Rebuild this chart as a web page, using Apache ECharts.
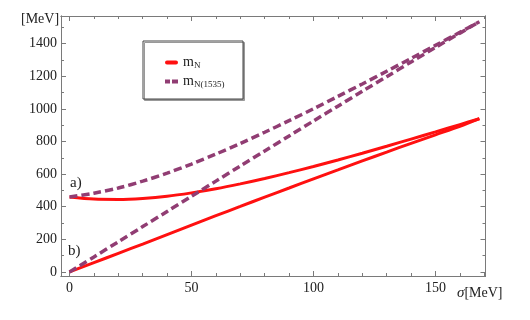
<!DOCTYPE html>
<html>
<head>
<meta charset="utf-8">
<title>masses vs sigma</title>
<script src="https://cdn.jsdelivr.net/npm/echarts@6/dist/echarts.min.js"></script>
<style>
    html, body { margin: 0; padding: 0; background: #fff; }
    #chart { width: 530px; height: 320px; }
</style>
</head>
<body>
<div id="chart"></div>
<script>
    // sigma values [MeV] (x)
    let sigma = [0, 10, 20, 30, 40, 50, 60, 70, 80, 90, 100, 110, 120, 130, 140, 150, 160, 168];
    // case a) curves
    let nucleonA = [460, 447, 445, 451, 464, 485, 510, 540, 573, 609, 647, 687, 728, 771, 815, 859, 904, 940];
    let n1535A = [460, 483, 515, 557, 606, 662, 723, 788, 857, 928, 1001, 1077, 1153, 1231, 1310, 1390, 1470, 1535];
    // case b) curves
    let nucleonB = [0, 57, 114, 171, 229, 287, 345, 402, 459, 515, 571, 626, 681, 735, 789, 841, 893, 940];
    let n1535B = [0, 92, 185, 278, 371, 464, 557, 650, 742, 834, 926, 1017, 1108, 1198, 1288, 1377, 1465, 1535];

    // tick labels
    let xMajor = [0, 50, 100, 150];
    let xMinor = [10, 20, 30, 40, 60, 70, 80, 90, 110, 120, 130, 140, 160, 170];
    let yMajor = [0, 200, 400, 600, 800, 1000, 1200, 1400];
    let yMinor = [100, 300, 500, 700, 900, 1100, 1300, 1500];

    let frameColor = '#7a7a7a';
    let red = '#ff1010';
    let purple = '#913d73';
    let serif = 'Liberation Serif';

    function pairs(ys) {
        return sigma.map((s, i) => [s, ys[i]]);
    }

    // one axis per side for the big ticks, one more for the small ones
    function xAx(pos, ticks, len, labels) {
        return {
            type: 'value', position: pos, min: -3.5, max: 170.5,
            axisLine: { show: true, onZero: false, lineStyle: { color: frameColor, width: 1 } },
            axisTick: { show: true, inside: true, length: len, customValues: ticks, lineStyle: { color: frameColor } },
            axisLabel: { show: labels, customValues: ticks, margin: 5, color: '#222', fontFamily: serif, fontSize: 14, formatter: v => String(v) },
            splitLine: { show: false }
        };
    }
    function yAx(pos, ticks, len, labels) {
        return {
            type: 'value', position: pos, min: -25, max: 1570,
            axisLine: { show: true, onZero: false, lineStyle: { color: frameColor, width: 1 } },
            axisTick: { show: true, inside: true, length: len, customValues: ticks, lineStyle: { color: frameColor } },
            axisLabel: { show: labels, customValues: ticks, margin: 4, color: '#222', fontFamily: serif, fontSize: 14, formatter: v => String(v) },
            splitLine: { show: false }
        };
    }

    let solid = { color: red, width: 3 };
    let dashed = { color: purple, width: 3.5, type: [8, 4] };

    let chart = echarts.init(document.getElementById('chart'));
    let option = {
        animation: false,
        grid: { left: 61, top: 16, right: 44.5, bottom: 44 },
        xAxis: [
            xAx('bottom', xMajor, 5, true),
            xAx('bottom', xMinor, 3, false),
            xAx('top', xMajor, 5, false),
            xAx('top', xMinor, 3, false)
        ],
        yAxis: [
            yAx('left', yMajor, 5, true),
            yAx('left', yMinor, 3, false),
            yAx('right', yMajor, 5, false),
            yAx('right', yMinor, 3, false)
        ],
        legend: {
            orient: 'vertical',
            left: 160,
            top: 50,
            itemWidth: 13,
            itemHeight: 4,
            itemGap: 4,
            data: [
                { name: 'mN', icon: 'path://M2,0h9a2,2 0 0 1 0,4h-9a2,2 0 0 1 0,-4z', itemStyle: { color: red } },
                { name: 'mN1535', icon: 'path://M0,0h5v4h-5z M7,0h6v4h-6z', itemStyle: { color: purple } }
            ],
            formatter: name => name === 'mN' ? '{m|m}{s|N}' : '{m|m}{s|N(1535)}',
            textStyle: {
                color: '#222',
                rich: {
                    m: { fontFamily: serif, fontSize: 14, lineHeight: 15 },
                    s: { fontFamily: serif, fontSize: 9, lineHeight: 15, padding: [6, 0, 0, 0] }
                }
            }
        },
        graphic: [
            {
                type: 'rect', z: 1,
                shape: { x: 143, y: 41, width: 100, height: 58 },
                style: { fill: '#fff', stroke: '#444', lineWidth: 1, shadowColor: '#999', shadowOffsetX: 1.5, shadowOffsetY: 1.5 }
            },
            {
                type: 'text', left: 21, top: 12, z: 10,
                style: { text: '[MeV]', fill: '#222', font: '14px "Liberation Serif"' }
            },
            {
                type: 'text', left: 457, top: 286, z: 10,
                style: {
                    text: '{i|σ}[MeV]', fill: '#222', font: '14px "Liberation Serif"',
                    rich: { i: { fontStyle: 'italic', fontFamily: serif, fontSize: 15 } }
                }
            },
            {
                type: 'text', left: 70, top: 176, z: 10,
                style: { text: 'a)', fill: '#222', font: '15px "Liberation Serif"' }
            },
            {
                type: 'text', left: 68, top: 244, z: 10,
                style: { text: 'b)', fill: '#222', font: '15px "Liberation Serif"' }
            }
        ],
        series: [
            { name: 'mN', type: 'line', data: pairs(nucleonA), symbol: 'none', smooth: 0.3, lineStyle: solid, itemStyle: { color: red } },
            { name: 'mN', type: 'line', data: pairs(nucleonB), symbol: 'none', smooth: 0.3, lineStyle: solid, itemStyle: { color: red } },
            { name: 'mN1535', type: 'line', data: pairs(n1535A), symbol: 'none', smooth: 0.3, lineStyle: dashed, itemStyle: { color: purple } },
            { name: 'mN1535', type: 'line', data: pairs(n1535B), symbol: 'none', smooth: 0.3, lineStyle: dashed, itemStyle: { color: purple } }
        ]
    };
    chart.setOption(option);
</script>
</body>
</html>
